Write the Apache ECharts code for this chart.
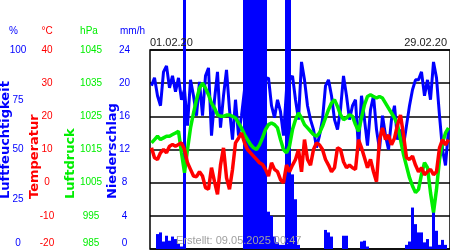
<!DOCTYPE html>
<html>
<head>
<meta charset="utf-8">
<script src="https://cdn.jsdelivr.net/npm/echarts@6/dist/echarts.min.js"></script>
<style>
  html, body { margin: 0; padding: 0; background: #fff; }
  #chart { width: 450px; height: 250px; }
</style>
</head>
<body>
<div id="chart"></div>
<script>
// Messwerte Februar 2020, ca. alle 7 Stunden
const humidity = [
  82, 86, 77, 72, 89, 92, 81, 87, 79, 86,
  75, 80, 62, 85, 77, 67, 84, 67, 87, 91,
  57, 75, 89, 61, 77, 90, 70, 55, 75, 57,
  67, 80, 85, 88, 90, 90, 88, 86, 85, 86,
  72, 66, 75, 69, 57, 80, 85, 87, 75, 65,
  94, 85, 72, 65, 60, 51, 57, 65, 82, 85,
  77, 65, 60, 70, 87, 77, 65, 72, 75, 50,
  77, 65, 52, 70, 77, 60, 50, 67, 57, 50,
  65, 72, 55, 60, 52, 62, 72, 80, 85, 85,
  89, 77, 85, 75, 94, 86, 67, 50, 42, 60
]
const temperature = [
  10.5, 7.5, 7, 9, 10, 9, 11, 11.5, 11, 11.5,
  12, 10, 6, 4, 2, 1.8, 3.3, 2, -1.5, -2,
  4.5, 0.3, -3.5, 5.3, 10.5, 1.5, -2, 4, 12, 13.4,
  15, 12, 10, 9, 8, 7, 6, 5.5, 4, 2,
  6, 4, 3.3, 0.9, 0, 5.3, 3.3, 5.3, 7, 10,
  3.3, 13, 7, 5.3, 10, 12, 11.4, 10, 7, 5.3,
  3.3, 4.5, 10.5, 10, 6.3, 4.5, 5.3, 4.5, 4, 13,
  10.5, 7.5, 4.5, 7, 3.3, 0.3, 13, 16.5, 13, 14.4,
  11.4, 13.4, 17.4, 20.4, 14.4, 7.5, 7, 8, 5.3, 3.3,
  4.5, 2.4, 3.3, 4, 2.4, 3.3, 10.5, 13, 11.4, 13
]
const pressure = [
  1017, 1018, 1019, 1018, 1018.5, 1019, 1019, 1019.5, 1020, 1020.5,
  1014, 1008, 1015, 1021.5, 1026, 1030, 1033.5, 1035, 1033.5, 1031.5,
  1029, 1027.5, 1025.5, 1025, 1025, 1025.4, 1025.4, 1025, 1024.5, 1023,
  1021.5, 1019.5, 1018, 1016.5, 1015.5, 1015, 1016.4, 1018.5, 1021, 1022.5,
  1023, 1022.5, 1021.5, 1018, 1015, 1014, 1016, 1021, 1024, 1026,
  1024.5, 1022.5, 1021.5, 1020.5, 1019.5, 1019, 1020, 1022, 1024.5, 1027,
  1029, 1030, 1028, 1025.5, 1024, 1024.5, 1025.5, 1025, 1022.5, 1020.5,
  1024.5, 1028.5, 1031, 1031.5, 1031, 1030.5, 1031, 1030.5, 1029, 1027.5,
  1026, 1024.5, 1022.5, 1018, 1013.5, 1010, 1006.5, 1004, 1002, 1003,
  1007.5, 1011, 1009.5, 1002, 996, 1003, 1012, 1017, 1020, 1021.5
]
const precipitation = [
  0, 0, 1.8, 2, 0.9, 1.6, 1, 1.5, 1.2, 0.6,
  0.3, 35, 0, 0, 0, 0, 0, 0, 0, 0,
  0, 0, 0, 0, 0, 0, 0, 0, 0, 0,
  0, 35, 35, 35, 35, 35, 35, 35, 35, 4.5,
  4, 1.5, 0.8, 0.5, 0.5, 35, 35, 9, 6, 0.5,
  0, 0, 0, 0, 0, 0, 0, 0, 2.3, 2,
  1.5, 0, 0, 0, 1.6, 1.6, 0, 0, 0, 0,
  0.9, 1, 0.3, 0, 0, 0, 0, 0, 0, 0,
  0, 0, 0, 0, 0, 0.5, 0.9, 5, 3, 2,
  2, 0.8, 1.2, 0.3, 5, 2.2, 0.5, 1.1, 0.5, 0
]

const humidityTicks = [0, 25, 50, 75, 100]
const temperatureTicks = [-20, -10, 0, 10, 20, 30, 40]
const pressureTicks = [985, 995, 1005, 1015, 1025, 1035, 1045]
const precipitationTicks = [0, 4, 8, 12, 16, 20, 24]
const dateLabels = ['01.02.20', '29.02.20']

const start = Date.UTC(2020, 1, 1)
const stepMs = (29 * 24 * 3600 * 1000) / humidity.length
const categories = humidity.map((v, i) => new Date(start + i * stepMs).toISOString().slice(0, 13))

const BLUE = '#0000ff'
const RED = '#ff0000'
const GREEN = '#00ee00'
const FONT = 'Liberation Sans, Arial, sans-serif'

function valueAxis(ticks, offset, color, showSplit) {
  const min = ticks[0]
  return {
    type: 'value',
    position: 'left',
    offset: offset,
    min: min,
    max: ticks[ticks.length - 1],
    interval: ticks[1] - ticks[0],
    axisLine: { show: false },
    axisTick: { show: false },
    splitLine: { show: showSplit, lineStyle: { color: '#000', width: 1.5 } },
    axisLabel: {
      align: 'center',
      margin: 0,
      color: color,
      fontSize: 10,
      fontFamily: FONT,
      formatter: v => (v === min ? '{lo|' + v + '}' : String(v)),
      rich: { lo: { color: color, fontSize: 10, fontFamily: FONT, padding: [0, 0, 12, 0] } }
    }
  }
}

function sideName(text, x, color) {
  return {
    type: 'text',
    x: x,
    y: 199,
    rotation: Math.PI / 2,
    z: 100,
    style: { text: text, fill: color, font: 'bold 13px DejaVu Sans', align: 'left', verticalAlign: 'middle' }
  }
}

function plainText(text, x, y, color, align, size) {
  return {
    type: 'text',
    x: x,
    y: y,
    z: 100,
    style: { text: text, fill: color, font: size + 'px ' + FONT, align: align, verticalAlign: 'middle' }
  }
}

const chart = echarts.init(document.getElementById('chart'))
chart.setOption({
  animation: false,
  grid: { left: 150, right: 0, top: 50, bottom: 1, show: true, borderColor: '#000', borderWidth: 1.5 },
  xAxis: { type: 'category', data: categories, show: false },
  yAxis: [
    valueAxis(temperatureTicks, 103, RED, true),
    valueAxis(humidityTicks, 132, BLUE, false),
    valueAxis(pressureTicks, 59, GREEN, false),
    valueAxis(precipitationTicks, 25.5, BLUE, false)
  ],
  series: [
    { name: 'Luftfeuchtigkeit', type: 'line', yAxisIndex: 1, data: humidity, showSymbol: false,
      lineStyle: { color: BLUE, width: 3 } },
    { name: 'Luftdruck', type: 'line', yAxisIndex: 2, data: pressure, showSymbol: false,
      lineStyle: { color: GREEN, width: 3.5 } },
    { name: 'Temperatur', type: 'line', yAxisIndex: 0, data: temperature, showSymbol: false,
      lineStyle: { color: RED, width: 3.5 } },
    { name: 'Niederschlag', type: 'bar', yAxisIndex: 3, data: precipitation, barCategoryGap: '0%',
      clip: false, itemStyle: { color: BLUE } }
  ],
  graphic: {
    elements: [
      plainText('%', 13.5, 31, BLUE, 'center', 10),
      plainText('°C', 47, 31, RED, 'center', 10),
      plainText('hPa', 89, 31, GREEN, 'center', 10),
      plainText('mm/h', 132.5, 31, BLUE, 'center', 10),
      plainText(dateLabels[0], 150, 43, '#222', 'left', 11),
      plainText(dateLabels[1], 447, 43, '#222', 'right', 11),
      plainText('Erstellt: 09.05.2025 00:47', 176, 241, '#a0a0a0', 'left', 11),
      sideName('Luftfeuchtigkeit', 5.5, BLUE),
      sideName('Temperatur', 35, RED),
      sideName('Luftdruck', 71, GREEN),
      sideName('Niederschlag', 112.5, BLUE)
    ]
  }
})
</script>
</body>
</html>
